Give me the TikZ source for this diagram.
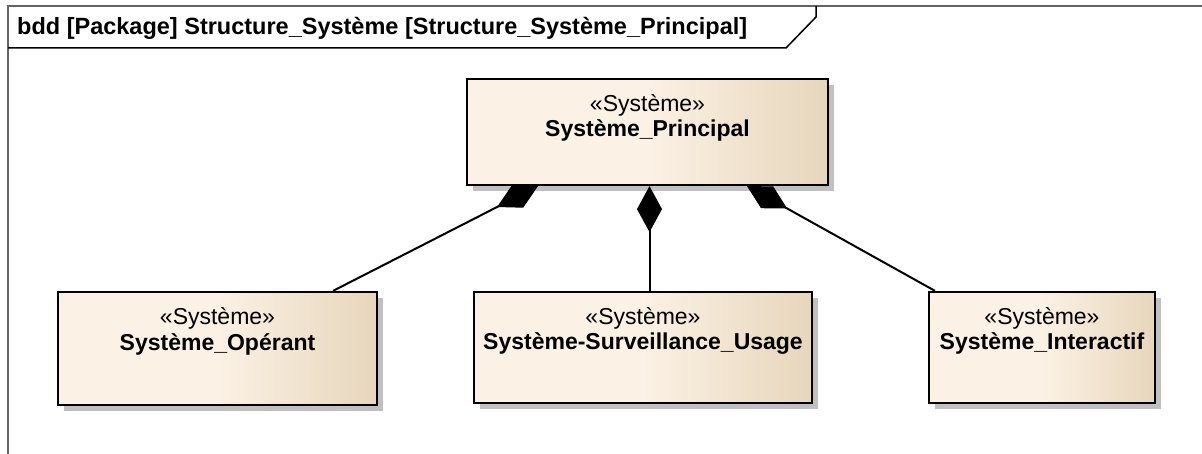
\documentclass[tikz,border=0pt]{standalone}
\usepackage{fontspec}
\setmainfont{Liberation Sans}
\usetikzlibrary{arrows.meta,shadows}
\definecolor{boxlight}{RGB}{251,241,228}
\definecolor{boxdark}{RGB}{231,214,188}
\definecolor{shadowgray}{RGB}{192,192,192}
\definecolor{framegray}{RGB}{100,100,100}
\begin{document}
\begin{tikzpicture}[x=1pt,y=-1pt,
	block/.style={rectangle,draw=black,line width=2.2pt,inner sep=0pt,
		left color=boxlight,right color=boxdark,middle color=boxlight,
		drop shadow={shadow xshift=6pt,shadow yshift=-6pt,fill=shadowgray,opacity=1}},
	stereo/.style={inner sep=0pt,font=\fontsize{23}{27}\selectfont},
	bname/.style={inner sep=0pt,font=\fontsize{23}{27}\selectfont\bfseries},
	comp/.style={line width=2pt,-{Diamond[length=46pt,width=25pt]}}]
			\useasboundingbox (0,0) rectangle (1202,454);
			
			% frame and header
			\draw[framegray,line width=2.2pt] (8,454) -- (8,6) -- (1202,6);
			\draw[line width=1.5pt] (8,48) -- (786,48) -- (816,17) -- (816,6);
			\node[bname,anchor=west,font=\fontsize{23.5}{27}\selectfont\bfseries] (title) at (17,28)
				{bdd [Package] Structure\_Système [Structure\_Système\_Principal]};
			
			% blocks
			\node[block,minimum width=361pt,minimum height=106pt] (prin) at (647.5,132) {};
			\node[block,minimum width=319pt,minimum height=113pt] (opr) at (217.5,348.5) {};
			\node[block,minimum width=338pt,minimum height=111pt] (surv) at (643,347.5) {};
			\node[block,minimum width=226pt,minimum height=111pt] (inter) at (1042,347.5) {};
			
			\node[stereo] (prin-s) at ([yshift=-28pt]prin.north) {«Système»};
			\node[bname] (prin-n) at ([yshift=-53pt]prin.north) {Système\_Principal};
			\node[stereo] (opr-s) at ([yshift=-28pt]opr.north) {«Système»};
			\node[bname] (opr-n) at ([yshift=-54pt]opr.north) {Système\_Opérant};
			\node[stereo] (surv-s) at ([yshift=-28pt]surv.north) {«Système»};
			\node[bname] (surv-n) at ([yshift=-53pt]surv.north) {Système-Surveillance\_Usage};
			\node[stereo] (inter-s) at ([yshift=-28pt]inter.north) {«Système»};
			\node[bname] (inter-n) at ([yshift=-53pt]inter.north) {Système\_Interactif};
			
			% composition links
			\draw[comp] ([xshift=115.5pt]opr.north) -- ([xshift=-109.5pt]prin.south);
			\draw[comp] ([xshift=6.5pt]surv.north) -- ([xshift=2pt]prin.south);
			\draw[comp] ([xshift=-107pt]inter.north) -- ([xshift=99.5pt]prin.south);
\end{tikzpicture}
\end{document}
